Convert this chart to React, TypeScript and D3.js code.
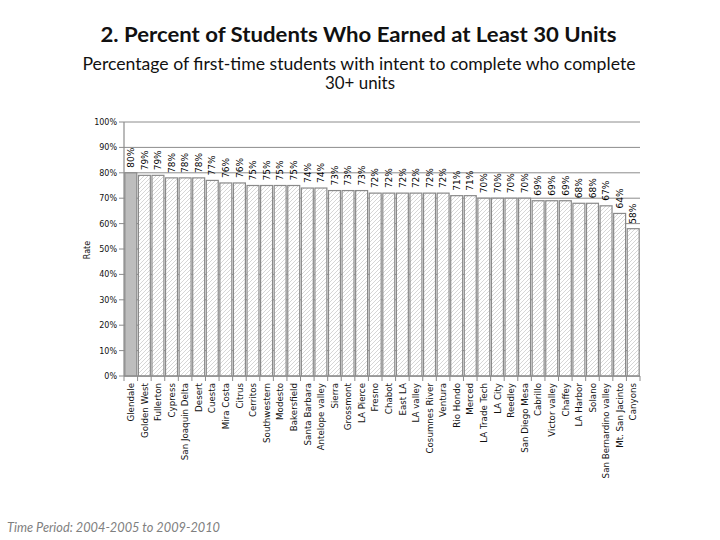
import React from "react";
import * as d3 from "d3";

const colleges = [
  "Glendale", "Golden West", "Fullerton", "Cypress", "San Joaquin Delta", "Desert", "Cuesta", "Mira Costa",
  "Citrus", "Cerritos", "Southwestern", "Modesto", "Bakersfield", "Santa Barbara", "Antelope valley", "Sierra",
  "Grossmont", "LA Pierce", "Fresno", "Chabot", "East LA", "LA valley", "Cosumnes River", "Ventura",
  "Rio Hondo", "Merced", "LA Trade Tech", "LA City", "Reedley", "San Diego Mesa", "Cabrillo", "Victor valley",
  "Chaffey", "LA Harbor", "Solano", "San Bernardino valley", "Mt. San Jacinto", "Canyons",
];
const rates = [
  80, 79, 79, 78, 78, 78, 77, 76, 76, 75, 75, 75, 75, 74, 74, 73, 73, 73, 72, 72, 72, 72, 72, 72,
  71, 71, 70, 70, 70, 70, 69, 69, 69, 68, 68, 67, 64, 58,
];
const yTicks = [0, 10, 20, 30, 40, 50, 60, 70, 80, 90, 100];
const highlighted = "Glendale";

const title = "2. Percent of Students Who Earned at Least 30 Units";
const subtitle1 = "Percentage of first-time students with intent to complete who complete";
const subtitle2 = "30+ units";
const footer = "Time Period: 2004-2005 to 2009-2010";

export default function App() {
  const left = 124, right = 640, top = 122, bottom = 376;
  const x = d3.scaleBand<string>().domain(colleges).range([left, right]).paddingInner(0.12).paddingOuter(0.06);
  const y = d3.scaleLinear().domain([0, 100]).range([bottom, top]);
  const step = x.step();
  const axisColor = "#8c8c8c";
  const smallFont = "DejaVu Sans, Verdana, sans-serif";
  const titleFont = "Lato, 'Open Sans', sans-serif";

  return (
    <svg width={720} height={540} style={{ position: "absolute", left: 0, top: 0, background: "#fff" }}>
      <defs>
        <pattern id="hatch" patternUnits="userSpaceOnUse" width={4} height={4}>
          <rect width={4} height={4} fill="#fff" />
          <path d="M-1,1 l2,-2 M0,4 l4,-4 M3,5 l2,-2" stroke="#c4c4c4" strokeWidth={0.7} />
        </pattern>
      </defs>
      <rect width={720} height={540} fill="#fff" />

      <text x={358.5} y={42} textAnchor="middle" fontFamily={titleFont} fontWeight="bold" fontSize={21}
        textLength={516} lengthAdjust="spacingAndGlyphs" fill="#111">{title}</text>
      <text x={359} y={70} textAnchor="middle" fontFamily={titleFont} fontSize={17}
        textLength={553} lengthAdjust="spacingAndGlyphs" fill="#111">{subtitle1}</text>
      <text x={360} y={89} textAnchor="middle" fontFamily={titleFont} fontSize={17}
        textLength={70} lengthAdjust="spacingAndGlyphs" fill="#111">{subtitle2}</text>

      {/* gridlines */}
      {yTicks.map((t) => (
        <line key={"g" + t} x1={left} x2={right} y1={y(t)} y2={y(t)} stroke={axisColor} strokeWidth={1} />
      ))}

      {/* bars */}
      {colleges.map((c, i) => (
        <rect key={c} x={x(c)!} y={y(rates[i])} width={x.bandwidth()} height={bottom - y(rates[i])}
          fill={c === highlighted ? "#bdbdbd" : "url(#hatch)"} stroke="#8a8a8a" strokeWidth={1.2} />
      ))}

      {/* value labels */}
      {colleges.map((c, i) => {
        const cx = x(c)! + x.bandwidth() / 2;
        const cy = y(rates[i]) - 5;
        return (
          <text key={"v" + c} transform={`translate(${cx + 3.2},${cy}) rotate(-90)`} fontFamily={smallFont}
            fontSize={9} fill="#000">{rates[i] + "%"}</text>
        );
      })}

      {/* y axis */}
      <line x1={left} x2={left} y1={top} y2={bottom} stroke={axisColor} strokeWidth={1.2} />
      {yTicks.map((t) => (
        <g key={"yt" + t}>
          <line x1={left - 5} x2={left} y1={y(t)} y2={y(t)} stroke={axisColor} />
          <text x={left - 7} y={y(t) + 3} textAnchor="end" fontFamily={smallFont} fontSize={8} fill="#111">{t + "%"}</text>
        </g>
      ))}
      <text transform={`translate(${90},${250}) rotate(-90)`} textAnchor="middle" fontFamily={smallFont}
        fontSize={8} fill="#111">Rate</text>

      {/* x axis */}
      <line x1={left} x2={right} y1={bottom} y2={bottom} stroke={axisColor} strokeWidth={1.2} />
      {colleges.map((c) => (
        <line key={"xt" + c} x1={x(c)! - (step - x.bandwidth()) / 2} x2={x(c)! - (step - x.bandwidth()) / 2}
          y1={bottom} y2={bottom + 5} stroke={axisColor} />
      ))}
      <line x1={right} x2={right} y1={bottom} y2={bottom + 5} stroke={axisColor} />
      {colleges.map((c) => {
        const cx = x(c)! + x.bandwidth() / 2;
        return (
          <text key={"xl" + c} transform={`translate(${cx + 3.2},${383}) rotate(-90)`} textAnchor="end"
            fontFamily={smallFont} fontSize={8.7} fill="#111">{c}</text>
        );
      })}

      <text x={7} y={532} fontFamily={titleFont} fontStyle="italic" fontSize={13} fill="#808080"
        textLength={213} lengthAdjust="spacingAndGlyphs">{footer}</text>
    </svg>
  );
}
